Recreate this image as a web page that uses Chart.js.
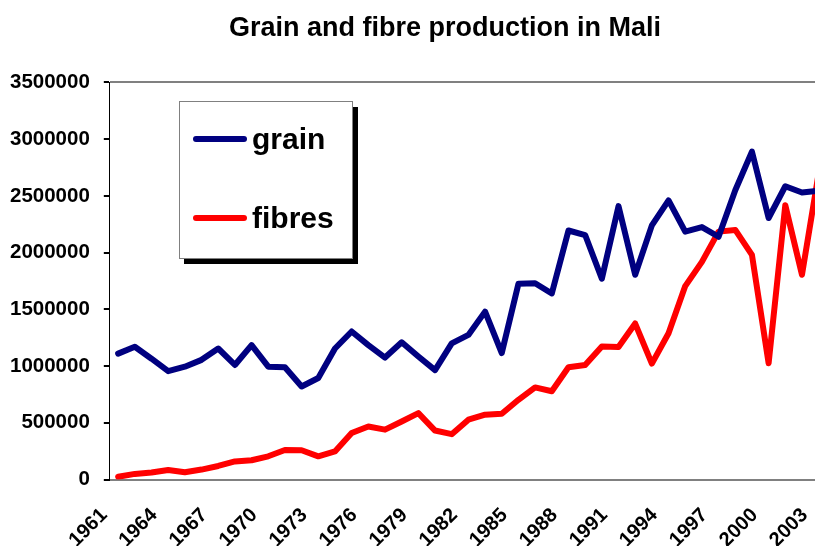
<!DOCTYPE html>
<html>
<head>
<meta charset="utf-8">
<title>Grain and fibre production in Mali</title>
<script src="https://cdn.jsdelivr.net/npm/chart.js@4/dist/chart.umd.min.js"></script>
<style>
  html, body { margin: 0; padding: 0; background: #fff; overflow: hidden; }
  #maliChart { display: block; }
</style>
</head>
<body>
<canvas id="maliChart" width="894" height="576" style="width:894px;height:576px"></canvas>
<script>
var years = [1961,1962,1963,1964,1965,1966,1967,1968,1969,1970,
             1971,1972,1973,1974,1975,1976,1977,1978,1979,1980,
             1981,1982,1983,1984,1985,1986,1987,1988,1989,1990,
             1991,1992,1993,1994,1995,1996,1997,1998,1999,2000,
             2001,2002,2003];

var grain = [1110000,1170000,1065000,955000,995000,1055000,1155000,1010000,1185000,995000,
             990000,820000,895000,1155000,1305000,1185000,1075000,1210000,1085000,965000,
             1200000,1275000,1480000,1115000,1725000,1730000,1640000,2195000,2155000,1770000,
             2410000,1805000,2240000,2460000,2185000,2225000,2140000,2550000,2890000,2305000,
             2585000,2530000,2545000];

var fibres = [25000,50000,62000,85000,65000,88000,120000,160000,170000,205000,
              260000,258000,205000,248000,410000,468000,440000,512000,585000,432000,
              400000,528000,572000,580000,703000,812000,778000,990000,1010000,1172000,
              1168000,1375000,1022000,1290000,1705000,1918000,2185000,2200000,1980000,1025000,
              2418000,1805000,2700000];

var shownYears = [1961,1964,1967,1970,1973,1976,1979,1982,1985,1988,1991,1994,1997,2000,2003];
var yTicks = [0,500000,1000000,1500000,2000000,2500000,3000000,3500000];

var FONT = 'Arial, "Liberation Sans", sans-serif';

// legend drawn inside the plot, like the Excel box with its shadow
var boxLegend = {
  id: 'boxLegend',
  afterDraw: function(chart) {
    var ctx = chart.ctx;
    ctx.save();
    ctx.fillStyle = '#000';
    ctx.fillRect(184, 107, 174, 157);
    ctx.fillStyle = '#fff';
    ctx.fillRect(179.5, 101.5, 173, 157);
    ctx.strokeStyle = '#808080';
    ctx.lineWidth = 1;
    ctx.strokeRect(179.5, 101.5, 173, 157);
    var rows = [139, 218];
    chart.data.datasets.forEach(function(ds, i) {
      ctx.strokeStyle = ds.borderColor;
      ctx.lineWidth = 6;
      ctx.lineCap = 'round';
      ctx.beginPath();
      ctx.moveTo(196, rows[i]);
      ctx.lineTo(244, rows[i]);
      ctx.stroke();
      ctx.fillStyle = '#000';
      ctx.font = 'bold 30px ' + FONT;
      ctx.textBaseline = 'middle';
      ctx.textAlign = 'left';
      ctx.fillText(ds.label, 252, rows[i] + 2);
    });
    ctx.restore();
  }
};

new Chart(document.getElementById('maliChart'), {
  type: 'line',
  data: {
    labels: years,
    datasets: [{
      label: 'grain',
      data: grain,
      borderColor: '#000080',
      backgroundColor: '#000080',
      borderWidth: 6,
      pointRadius: 0,
      tension: 0,
      borderJoinStyle: 'round',
      borderCapStyle: 'round'
    }, {
      label: 'fibres',
      data: fibres,
      borderColor: '#ff0000',
      backgroundColor: '#ff0000',
      borderWidth: 6,
      pointRadius: 0,
      tension: 0,
      borderJoinStyle: 'round',
      borderCapStyle: 'round'
    }]
  },
  options: {
    responsive: false,
    animation: false,
    events: [],
    layout: { padding: { left: -4, right: 0, top: 0, bottom: 0 } },
    plugins: {
      legend: { display: false },
      tooltip: { enabled: false },
      title: {
        display: true,
        text: 'Grain and fibre production in Mali',
        color: '#000',
        font: { family: FONT, size: 27, weight: 'bold' },
        padding: { top: 12, bottom: 38 }
      }
    },
    scales: {
      x: {
        offset: true,
        grid: { display: true, drawOnChartArea: false, drawTicks: false },
        border: { display: true, color: '#808080', width: 2 },
        ticks: {
          autoSkip: false,
          minRotation: 45,
          maxRotation: 45,
          padding: 24,
          labelOffset: -14,
          color: '#000',
          font: { family: FONT, size: 20, weight: 'bold' },
          callback: function(val, idx) {
            var y = years[idx];
            return shownYears.indexOf(y) >= 0 ? String(y) : '';
          }
        }
      },
      y: {
        min: 0,
        max: 3500000,
        afterBuildTicks: function(axis) {
          axis.ticks = yTicks.map(function(v) { return { value: v }; });
        },
        grid: {
          drawOnChartArea: true,
          drawTicks: true,
          tickLength: 6,
          tickColor: '#000',
          lineWidth: 2,
          color: function(c) {
            return c.tick && c.tick.value === 3500000 ? '#808080' : 'rgba(0,0,0,0)';
          }
        },
        border: { display: true, color: '#000', width: 1 },
        ticks: {
          padding: 14,
          color: '#000',
          font: { family: FONT, size: 20.5, weight: 'bold' },
          callback: function(v) { return String(v); }
        }
      },
      // empty right margin: the plot runs past the picture's edge, title stays centred on the canvas
      spacer: {
        type: 'linear',
        position: 'right',
        grid: { display: false },
        border: { display: false },
        ticks: { display: false },
        afterFit: function(s) { s.width = 67; }
      }
    }
  },
  plugins: [boxLegend]
});
</script>
</body>
</html>
